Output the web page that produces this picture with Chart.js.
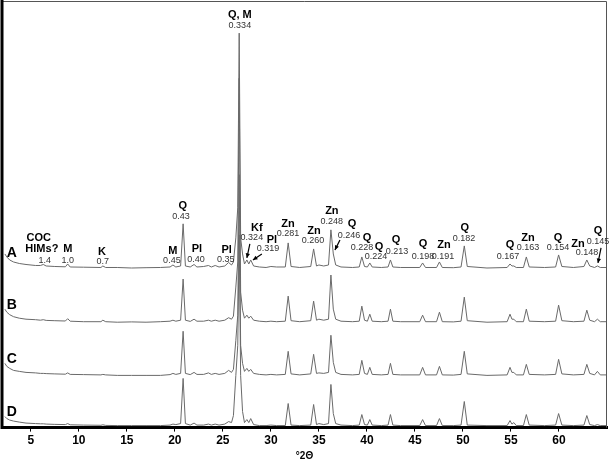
<!DOCTYPE html>
<html>
<head>
<meta charset="utf-8">
<script src="https://cdn.jsdelivr.net/npm/chart.js@4.4.0/dist/chart.umd.min.js"></script>
<style>
  html, body { margin: 0; padding: 0; background: #fff; }
  #wrap { width: 609px; height: 459px; }
</style>
</head>
<body>
<div id="wrap"><canvas id="xrd"></canvas></div>
<script>
// 2-theta sampling positions (degrees) shared by all four patterns
const twoTheta = [
  2.3, 2.5, 2.8, 3.2, 3.8, 4.5, 5.5, 6.0, 6.3, 6.6,
  7.5, 8.6, 8.84, 9.1, 10.5, 12.3, 12.5, 12.8, 14, 15.5,
  17, 18.5, 19.5, 19.8, 20.1, 20.6, 20.86, 21.1, 21.6, 22.0,
  22.3, 23.0, 23.5, 23.8, 24.2, 24.6, 25.2, 25.6, 25.9, 26.1,
  26.35, 26.55, 26.7, 26.85, 27.05, 27.25, 27.5, 27.7, 27.9, 28.2,
  28.8, 29.5, 30.0, 30.6, 31.5, 31.8, 32.1, 33.0, 34.15, 34.45,
  34.75, 35.0, 35.5, 36.0, 36.25, 36.5, 36.75, 37.3, 38.5, 39.2,
  39.47, 39.75, 40.05, 40.3, 40.55, 41.5, 42.2, 42.45, 42.7, 43.5,
  45.5, 45.8, 46.1, 47.25, 47.55, 47.85, 49.0, 49.8, 50.14, 50.45,
  52.5, 54.6, 54.9, 55.1, 55.3, 55.55, 56.3, 56.6, 56.9, 58.5,
  59.65, 59.96, 60.3, 61.5, 62.6, 62.9, 63.2, 63.7, 64.0, 64.3,
  64.9
];

// intensities above each pattern's own baseline
const traceA = [
  14, 11, 8, 6, 4.5, 3.5, 2.5, 2.5, 3.5, 2,
  1.5, 1.2, 4, 1, 0.8, 0.5, 2, 0.5, 0.5, 0,
  0.3, 0.5, 1, 3, 1, 2, 44, 2, 1, 3.5,
  1, 1.5, 2.5, 1, 2.5, 1, 2, 5.5, 3, 6,
  30, 60, 234, 30, 14, 4, 8, 4, 8, 2,
  1, 0.5, 1.5, 1, 1, 25, 1.5, 0.5, 1.5, 19,
  2, 3, 2, 3, 38, 14, 3, 1, 0.5, 1,
  11, 1.5, 1, 5, 1, 0.5, 1, 8, 1, 0.5,
  0.5, 5, 0.5, 0.5, 6, 0.5, 0.3, 1, 22, 1.5,
  0, 0.5, 4, 2, 2, 0.5, 0.5, 11, 1, 0.5,
  1, 13, 1.5, 0.5, 1.5, 8, 2, 0.5, 2, 0.5,
  0.5
];
const traceB = [
  13, 10, 7.5, 5.5, 4, 3, 2.5, 2, 2.5, 1.8,
  1.5, 1.2, 3.5, 1, 0.5, 0.5, 2, 0.5, 0, 0.3,
  0, 0.5, 1, 2, 1, 2, 43, 2, 0.8, 3,
  1, 1, 2, 1, 2, 1, 2, 4.5, 3, 6,
  35, 60, 243, 30, 12, 4, 7, 4, 6, 2,
  1, 0.5, 1, 0.5, 1, 26, 1.5, 0.5, 1.5, 21,
  2, 3, 2, 3, 47, 13, 3, 1, 0.5, 1,
  16, 2, 1, 8, 1, 0.5, 1, 13, 1, 0.5,
  0.5, 7, 0.5, 0.5, 10, 0.5, 0.3, 1, 25, 1.5,
  0, 0.5, 8, 3, 3, 0.5, 0.5, 13, 1, 0.5,
  1, 17, 1.5, 0.5, 1, 12, 2, 0.5, 3, 0.5,
  0.5
];
const traceC = [
  12, 9, 7, 5, 4, 3, 2.5, 2, 2, 1.8,
  1.5, 1.2, 2.5, 1, 0.8, 0.5, 1, 0.5, 0, 0,
  0, 0, 0.8, 2, 1, 2, 44, 2, 0.8, 3,
  1, 1, 2.5, 1, 2, 1, 2, 5, 3, 6,
  35, 60, 200, 30, 12, 4, 7, 4, 6, 2,
  1, 0.5, 1, 0.5, 1, 24, 1.5, 0.5, 1.5, 21,
  2, 2.5, 2, 3, 40, 13, 3, 1, 0.5, 1,
  15, 2, 1, 8, 1, 0.5, 1, 12, 1, 0.5,
  0.5, 8, 0.5, 0.5, 9, 0.5, 0.3, 1, 24, 1.5,
  0, 0.5, 8, 3, 3, 0.5, 0.5, 11, 1, 0.5,
  1, 16, 1.5, 0.5, 1, 11, 2, 0.5, 4, 0.5,
  0.5
];
const traceD = [
  9, 7, 5.5, 4.5, 3.5, 2.5, 2, 1.8, 1.8, 1.5,
  1.2, 1, 2, 0.8, 0.5, 0.3, 0.8, 0.2, 0, 0,
  0, 0, 0.5, 1.5, 1, 2, 47, 2, 0.5, 2.5,
  0.5, 0.5, 1.5, 0.5, 1.5, 0.5, 1.5, 4, 3, 10,
  50, 80, 190, 50, 14, 3, 6, 3, 7, 1,
  0, 0, 0.5, 0, 0, 22, 0.5, 0, 0.5, 21,
  1, 2, 1, 2, 41, 12, 2, 0.5, 0, 0.5,
  11, 1, 0.5, 6, 0.5, 0, 0.5, 11, 0.5, 0,
  0, 6, 0, 0, 7, 0, 0, 0.5, 24, 0.5,
  0, 0, 5, 1.5, 3, 0, 0, 11, 0.5, 0,
  0.5, 12, 0.5, 0, 0.5, 10, 1, 0, 1, 0,
  0
];

const traceNames = ['A', 'B', 'C', 'D'];
const stackOffsets = [159, 105, 52, 2];   // vertical shift of each pattern
const tickValues = [5, 10, 15, 20, 25, 30, 35, 40, 45, 50, 55, 60];

// mineral labels, d-spacings (nm), anchored in (2θ, intensity) units
const phaseText = ['COC', 'HIMs?', 'M', 'K', 'M', 'Q', 'Pl', 'Pl', 'Q, M', 'Kf', 'Pl',
  'Zn', 'Zn', 'Zn', 'Q', 'Q', 'Q', 'Q', 'Q', 'Zn', 'Q', 'Q', 'Zn', 'Q', 'Zn', 'Q'];
const phaseAt = [[5.83, 189], [6.15, 178], [8.85, 178], [12.4, 175], [19.8, 176], [20.83, 221],
  [22.3, 178], [25.4, 177], [26.77, 411], [28.54, 199], [30.1, 187], [31.77, 203], [34.48, 196],
  [36.35, 216], [38.44, 203], [40.0, 189], [41.25, 180], [43.02, 187], [45.83, 183], [48.02, 182],
  [50.2, 199], [54.9, 182], [56.77, 189], [59.9, 189], [61.98, 183], [64.06, 196]];
const dText = ['1.4', '1.0', '0.7', '0.45', '0.43', '0.40', '0.35', '0.334', '0.324', '0.319',
  '0.281', '0.260', '0.248', '0.246', '0.228', '0.224', '0.213', '0.198', '0.191', '0.182',
  '0.167', '0.163', '0.154', '0.148', '0.145'];
const dAt = [[6.46, 166], [8.85, 166], [12.5, 165], [19.69, 166], [20.63, 210], [22.19, 167],
  [25.31, 167], [26.77, 401], [28.02, 189], [29.69, 178], [31.77, 193], [34.38, 186],
  [36.35, 205], [38.13, 191], [39.48, 179], [40.94, 170], [43.13, 175], [45.83, 170],
  [47.92, 170], [50.1, 188], [54.69, 170], [56.77, 179], [59.9, 179], [62.92, 174], [64.06, 185]];
const arrowsAt = [[27.81, 183, 27.5, 169], [29.06, 173, 28.13, 167],
  [37.19, 187, 36.67, 177], [64.38, 179, 64.06, 164]];
const traceNameAt = [[3.02, 174], [3.02, 122], [3.02, 68], [3.02, 15]];

const traces = [traceA, traceB, traceC, traceD];
traces.forEach(t => { if (t.length !== twoTheta.length) throw new Error('length ' + t.length); });

const FONT = '"Liberation Sans", Arial, sans-serif';

const overlay = {
  id: 'overlay',
  afterDraw(chart) {
    const { ctx, chartArea: a, scales: { x, y } } = chart;
    ctx.save();
    // thin frame top and right
    ctx.strokeStyle = '#555';
    ctx.lineWidth = 1;
    ctx.beginPath();
    ctx.moveTo(a.left, a.top + 0.5);
    ctx.lineTo(a.right - 0.5, a.top + 0.5);
    ctx.lineTo(a.right - 0.5, a.bottom);
    ctx.stroke();
    // thick left axis
    ctx.strokeStyle = '#000';
    ctx.lineWidth = 3;
    ctx.beginPath();
    ctx.moveTo(a.left, a.top - 1);
    ctx.lineTo(a.left, a.bottom + 1.5);
    ctx.stroke();

    ctx.textAlign = 'center';
    ctx.textBaseline = 'middle';
    ctx.fillStyle = '#000';
    ctx.font = 'bold 11px ' + FONT;
    phaseText.forEach((t, i) => {
      ctx.fillText(t, x.getPixelForValue(phaseAt[i][0]), y.getPixelForValue(phaseAt[i][1]));
    });
    ctx.fillStyle = '#333';
    ctx.font = '9px ' + FONT;
    dText.forEach((t, i) => {
      ctx.fillText(t, x.getPixelForValue(dAt[i][0]), y.getPixelForValue(dAt[i][1]));
    });
    ctx.fillStyle = '#000';
    ctx.font = 'bold 14px ' + FONT;
    traceNames.forEach((t, i) => {
      ctx.fillText(t, x.getPixelForValue(traceNameAt[i][0]), y.getPixelForValue(traceNameAt[i][1]));
    });

    // arrows
    ctx.strokeStyle = '#000';
    ctx.lineWidth = 1.2;
    arrowsAt.forEach(([x0, y0, x1, y1]) => {
      const px0 = x.getPixelForValue(x0), py0 = y.getPixelForValue(y0);
      const px1 = x.getPixelForValue(x1), py1 = y.getPixelForValue(y1);
      const ang = Math.atan2(py1 - py0, px1 - px0);
      ctx.beginPath();
      ctx.moveTo(px0, py0);
      ctx.lineTo(px1, py1);
      ctx.stroke();
      ctx.beginPath();
      ctx.moveTo(px1, py1);
      ctx.lineTo(px1 - 5 * Math.cos(ang - 0.45), py1 - 5 * Math.sin(ang - 0.45));
      ctx.lineTo(px1 - 5 * Math.cos(ang + 0.45), py1 - 5 * Math.sin(ang + 0.45));
      ctx.closePath();
      ctx.fill();
    });
    ctx.restore();
  }
};

new Chart(document.getElementById('xrd'), {
  type: 'line',
  data: {
    datasets: traces.map((t, k) => ({
      label: traceNames[k],
      data: twoTheta.map((v, i) => ({ x: v, y: t[i] + stackOffsets[k] })),
      borderColor: '#6a6a6a',
      borderWidth: 1,
      pointRadius: 0,
      tension: 0,
      fill: false
    }))
  },
  options: {
    responsive: true,
    maintainAspectRatio: false,
    animation: false,
    layout: { padding: { left: 2, right: 2, top: 1, bottom: -3 } },
    plugins: { legend: { display: false }, tooltip: { enabled: false } },
    scales: {
      x: {
        type: 'linear',
        min: 2,
        max: 65,
        afterBuildTicks: s => { s.ticks = tickValues.map(v => ({ value: v })); },
        grid: { display: true, drawOnChartArea: false, drawTicks: true, tickLength: 4, color: '#000' },
        border: { display: true, width: 3, color: '#000' },
        ticks: { color: '#000', padding: 2, font: { family: FONT, size: 12, weight: 'bold' } },
        title: { display: true, text: '°2Θ', color: '#000', padding: { top: 0, bottom: 0 },
          font: { family: FONT, size: 10, weight: 'bold' } }
      },
      y: {
        display: false,
        min: 0,
        max: 425
      }
    }
  },
  plugins: [overlay]
});
</script>
</body>
</html>
